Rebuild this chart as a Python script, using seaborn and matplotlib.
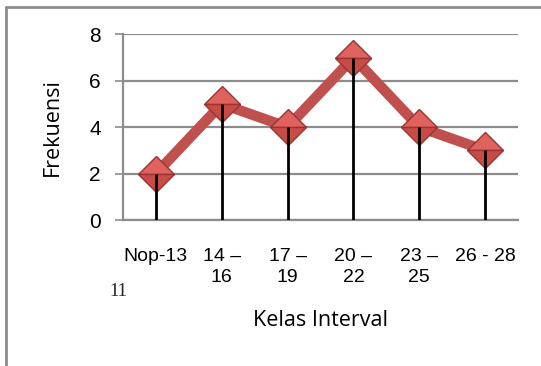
import matplotlib
matplotlib.use("Agg")
import matplotlib.pyplot as plt
from matplotlib.lines import Line2D
import seaborn as sns
import pandas as pd

# Data
kelas = ["Nop-13", "14 –\n16", "17 –\n19", "20 –\n22", "23 –\n25", "26 - 28"]
frekuensi = [2, 5, 4, 7, 4, 3]
y_ticks = [0, 2, 4, 6, 8]

df = pd.DataFrame({"Kelas Interval": kelas, "Frekuensi": frekuensi})

sns.set_style("white")
plt.rcParams["font.family"] = ["Liberation Sans", "DejaVu Sans"]

fig = plt.figure(figsize=(5.41, 3.66), dpi=100)
ax = fig.add_axes([123 / 541, 1 - 220 / 366, 395 / 541, (220 - 34.3) / 366])

grey = "#8c8c8c"

# Poligon frekuensi
sns.lineplot(data=df, x="Kelas Interval", y="Frekuensi", ax=ax, sort=False,
             color="#C0504D", lw=7.5, marker="D", ms=18, fillstyle="top",
             mfc="#E0625E", mfcalt="#C94B47", mec="#9A3431", mew=1.0,
             solid_joinstyle="miter", zorder=3)

# garis tegak dari sumbu ke titik
ax.vlines(df["Kelas Interval"], 0, df["Frekuensi"], color="black", lw=2, zorder=4)

ax.set_xlim(-0.5, len(kelas) - 0.5)
ax.set_ylim(0, 8)
ax.set_yticks(y_ticks)
ax.yaxis.grid(True, color=grey, lw=1.6)
ax.set_axisbelow(True)

for s in ["top", "right"]:
    ax.spines[s].set_visible(False)
for s in ["left", "bottom"]:
    ax.spines[s].set_color(grey)
    ax.spines[s].set_linewidth(1.6)

ax.tick_params(axis="y", length=6, width=1.2, color=grey, pad=10, labelsize=15,
               labelcolor="black", left=True)
ax.tick_params(axis="x", length=0, pad=20, labelsize=14, labelcolor="black")
for lab in ax.get_xticklabels():
    lab.set_verticalalignment("top")
    lab.set_linespacing(1.3)

ax.set_xlabel("Kelas Interval", family=["Open Sans", "DejaVu Sans"], fontsize=15.5,
              color="black", va="center")
ax.xaxis.set_label_coords(0.5, (220 - 321) / 185.7)
ax.set_ylabel("Frekuensi", family=["Open Sans", "DejaVu Sans"], fontsize=15.5,
              color="black", va="center")
ax.yaxis.set_label_coords((52 - 123) / 395, (220 - 127) / 185.7)

fig.text(118 / 541, 1 - 292 / 366, "11", family=["Liberation Serif"], fontsize=13.5,
         ha="center", va="center")

# bingkai luar
fig.add_artist(Line2D([6 / 541, 1], [1 - 7 / 366, 1 - 7 / 366], color=grey, lw=2))
fig.add_artist(Line2D([6 / 541, 6 / 541], [0, 1 - 7 / 366], color=grey, lw=2))

fig.savefig("out.png", dpi=100)
